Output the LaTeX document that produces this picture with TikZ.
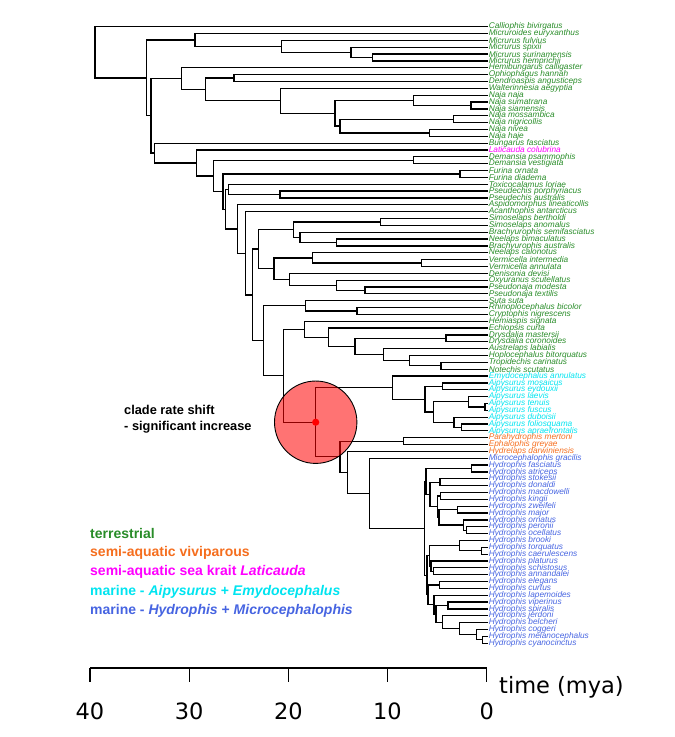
\documentclass[tikz,border=0pt]{standalone}
\usepackage{fontspec}
\setmainfont{Liberation Sans}
\newfontfamily\axisfont{DejaVu Sans}
\definecolor{terr}{RGB}{40,140,40}
\definecolor{viv}{RGB}{245,110,30}
\definecolor{krait}{RGB}{255,0,255}
\definecolor{aipc}{RGB}{0,228,240}
\definecolor{hydc}{RGB}{70,100,225}
\begin{document}
\begin{tikzpicture}[x=1pt,y=-1pt,
    br/.style={line width=1.25pt},
    lab/.style={anchor=west,inner xsep=0.6pt,inner ysep=0pt,font=\fontsize{8.3}{8.3}\selectfont\itshape},
    key/.style={anchor=west,inner sep=0pt,font=\fontsize{14}{14}\selectfont\bfseries},
    ax/.style={line width=1.2pt},
    axlab/.style={inner sep=0pt,font=\fontsize{22.5}{22.5}\selectfont\axisfont}]
\useasboundingbox (0,0) rectangle (675,737);
\begin{scope}[y=-6.85pt,yshift=-19.85pt]
% tips
\foreach \n [count=\i] in {Calliophis bivirgatus,Micruroides euryxanthus,Micrurus fulvius,Micrurus spixii,Micrurus surinamensis,Micrurus hemprichii,Hemibungarus calligaster,Ophiophagus hannah,Dendroaspis angusticeps,Walterinnesia aegyptia,Naja naja,Naja sumatrana,Naja siamensis,Naja mossambica,Naja nigricollis,Naja nivea,Naja haje,Bungarus fasciatus}
  {\coordinate (t\i) at (488,\i); \node[lab,text=terr] (l\i) at (t\i) {\n};}
\coordinate (t19) at (488,19); \node[lab,text=krait] (l19) at (t19) {Laticauda colubrina};
\foreach \n [count=\i from 20] in {Demansia psammophis,Demansia vestigiata,Furina ornata,Furina diadema,Toxicocalamus loriae,Pseudechis porphyriacus,Pseudechis australis,Aspidomorphus lineaticollis,Acanthophis antarcticus,Simoselaps bertholdi,Simoselaps anomalus,Brachyurophis semifasciatus,Neelaps bimaculatus,Brachyurophis australis,Neelaps calonotus,Vermicella intermedia,Vermicella annulata,Denisonia devisi,Oxyuranus scutellatus,Pseudonaja modesta,Pseudonaja textilis,Suta suta,Rhinoplocephalus bicolor,Cryptophis nigrescens,Hemiaspis signata,Echiopsis curta,Drysdalia mastersii,Drysdalia coronoides,Austrelaps labialis,Hoplocephalus bitorquatus,Tropidechis carinatus,Notechis scutatus}
  {\coordinate (t\i) at (488,\i); \node[lab,text=terr] (l\i) at (t\i) {\n};}
\foreach \n [count=\i from 52] in {Emydocephalus annulatus,Aipysurus mosaicus,Aipysurus eydouxii,Aipysurus laevis,Aipysurus tenuis,Aipysurus fuscus,Aipysurus duboisii,Aipysurus foliosquama,Aipysurus apraefrontalis}
  {\coordinate (t\i) at (488,\i); \node[lab,text=aipc] (l\i) at (t\i) {\n};}
\foreach \n [count=\i from 61] in {Parahydrophis mertoni,Ephalophis greyae,Hydrelaps darwiniensis}
  {\coordinate (t\i) at (488,\i); \node[lab,text=viv] (l\i) at (t\i) {\n};}
\foreach \n [count=\i from 64] in {Microcephalophis gracilis,Hydrophis fasciatus,Hydrophis atriceps,Hydrophis stokesii,Hydrophis donaldi,Hydrophis macdowelli,Hydrophis kingii,Hydrophis zweifeli,Hydrophis major,Hydrophis ornatus,Hydrophis peronii,Hydrophis ocellatus,Hydrophis brooki,Hydrophis torquatus,Hydrophis caerulescens,Hydrophis platurus,Hydrophis schistosus,Hydrophis annandalei,Hydrophis elegans,Hydrophis curtus,Hydrophis lapemoides,Hydrophis viperinus,Hydrophis spiralis,Hydrophis jerdoni,Hydrophis belcheri,Hydrophis coggeri,Hydrophis melanocephalus,Hydrophis cyanocinctus}
  {\coordinate (t\i) at (488,\i); \node[lab,text=hydc] (l\i) at (t\i) {\n};}
% internal nodes (x = age, y = mean of daughters)
\coordinate (root) at (95,4.74);
\coordinate (nA) at (146.7,8.48);
\coordinate (nB) at (195,2.94);
\coordinate (nC) at (281.7,3.88);
\coordinate (nD) at (351,4.75);
\coordinate (nE) at (372.3,5.5);
\coordinate (nF) at (151,14.01);
\coordinate (nG) at (181.7,8.58);
\coordinate (nH) at (205.7,10.16);
\coordinate (nI) at (234,8.5);
\coordinate (nJ) at (280.7,11.81);
\coordinate (naja) at (335,13.63);
\coordinate (nK) at (413.3,11.75);
\coordinate (nK2) at (471,12.5);
\coordinate (nL) at (340,15.5);
\coordinate (nM) at (453.3,14.5);
\coordinate (nN) at (429.3,16.5);
\coordinate (nBu) at (154.3,19.45);
\coordinate (nR) at (196.7,20.89);
\coordinate (nP) at (213.5,22.79);
\coordinate (dem) at (413.3,20.5);
\coordinate (nQa) at (223,25.07);
\coordinate (fur) at (460,22.5);
\coordinate (nQb) at (225.5,27.65);
\coordinate (nS) at (228.5,24.75);
\coordinate (pse) at (280,25.5);
\coordinate (nT) at (237.7,30.54);
\coordinate (nU) at (245.7,34.08);
\coordinate (nV) at (252.3,40.16);
\coordinate (nW) at (258.3,33.47);
\coordinate (nX) at (293.3,30.63);
\coordinate (sim) at (380.7,29.5);
\coordinate (nX2) at (300,31.75);
\coordinate (nX3) at (336.7,32.5);
\coordinate (nY) at (274,36.31);
\coordinate (nY1) at (312.3,34.75);
\coordinate (ver) at (421.7,35.5);
\coordinate (nY2) at (289.3,37.88);
\coordinate (nY3) at (336.7,38.75);
\coordinate (psn) at (365,39.5);
\coordinate (nZ) at (263.3,46.85);
\coordinate (nZ1) at (305.7,41.75);
\coordinate (nZ2) at (357,42.5);
\coordinate (nAA) at (283.3,51.95);
\coordinate (nN1) at (304.3,45.17);
\coordinate (nN2) at (328.3,46.34);
\coordinate (nN3) at (355,47.69);
\coordinate (dry) at (446,46.5);
\coordinate (nN4) at (383.3,48.88);
\coordinate (nN5) at (409.3,49.75);
\coordinate (nN6) at (441,50.5);
\coordinate (marine) at (315.7,58.74);
\coordinate (aip) at (392.7,53.69);
\coordinate (ap1) at (425,55.38);
\coordinate (ap2) at (442.7,53.5);
\coordinate (ap3) at (433.3,57.25);
\coordinate (ap4) at (468.3,55.75);
\coordinate (ap6) at (485,56.5);
\coordinate (ap5) at (454,58.75);
\coordinate (ap7) at (461.7,59.5);
\coordinate (sv1) at (340,63.78);
\coordinate (sv2) at (403.3,61.5);
\coordinate (sv3) at (347.7,66.06);
\coordinate (sv4) at (369.3,69.12);
\coordinate (hyd) at (424.3,74.24);
\coordinate (hg1) at (426,67.39);
\coordinate (hp1) at (471.7,65.5);
\coordinate (ha1) at (430,69.28);
\coordinate (ha2) at (440,67.5);
\coordinate (ha3) at (437.3,71.06);
\coordinate (ha4) at (440.5,69.5);
\coordinate (ha5) at (439,72.63);
\coordinate (ha6) at (457.7,71.5);
\coordinate (ha7) at (463.3,73.75);
\coordinate (ha8) at (466.7,74.5);
\coordinate (hg2) at (427,81.09);
\coordinate (hb1) at (429.3,78.25);
\coordinate (hb2) at (459.3,76.75);
\coordinate (hb4) at (481.7,77.5);
\coordinate (hb3) at (431,79.75);
\coordinate (hb5) at (433.5,80.5);
\coordinate (hc1) at (428,83.93);
\coordinate (hc2) at (439.3,82.5);
\coordinate (hc3) at (434,85.36);
\coordinate (hc4) at (436,86.72);
\coordinate (hc5) at (448,85.5);
\coordinate (hc6) at (442.7,87.94);
\coordinate (hc7) at (459.3,88.88);
\coordinate (hc8) at (476.7,89.75);
\coordinate (hc9) at (482.7,90.5);
% branches: parent/upper/lower
\foreach \p/\a/\b in {root/t1/nA,nA/nB/nF,nB/t2/nC,nC/t3/nD,nD/t4/nE,nE/t5/t6,
    nF/nG/nBu,nG/t7/nH,nH/nI/nJ,nI/t8/t9,nJ/t10/naja,naja/nK/nL,nK/t11/nK2,nK2/t12/t13,
    nL/nM/nN,nM/t14/t15,nN/t16/t17,nBu/t18/nR,nR/t19/nP,nP/dem/nQa,dem/t20/t21,
    nQa/fur/nQb,fur/t22/t23,nQb/nS/nT,nS/t24/pse,pse/t25/t26,nT/t27/nU,nU/t28/nV,
    nV/nW/nZ,nW/nX/nY,nX/sim/nX2,sim/t29/t30,nX2/t31/nX3,nX3/t32/t33,nY/nY1/nY2,
    nY1/t34/ver,ver/t35/t36,nY2/t37/nY3,nY3/t38/psn,psn/t39/t40,nZ/nZ1/nAA,
    nZ1/t41/nZ2,nZ2/t42/t43,nAA/nN1/marine,nN1/t44/nN2,nN2/t45/nN3,nN3/dry/nN4,
    dry/t46/t47,nN4/t48/nN5,nN5/t49/nN6,nN6/t50/t51,
    marine/aip/sv1,aip/t52/ap1,ap1/ap2/ap3,ap2/t53/t54,ap3/ap4/ap5,ap4/t55/ap6,
    ap6/t56/t57,ap5/t58/ap7,ap7/t59/t60,sv1/sv2/sv3,sv2/t61/t62,sv3/t63/sv4,sv4/t64/hyd,
    hyd/hg1/hg2,hg1/hp1/ha1,hp1/t65/t66,ha1/ha2/ha3,ha2/t67/t68,ha3/ha4/ha5,ha4/t69/t70,
    ha5/ha6/ha7,ha6/t71/t72,ha7/t73/ha8,ha8/t74/t75,hg2/hb1/hc1,hb1/hb2/hb3,hb2/t76/hb4,
    hb4/t77/t78,hb3/t79/hb5,hb5/t80/t81,hc1/hc2/hc3,hc2/t82/t83,hc3/t84/hc4,hc4/hc5/hc6,
    hc5/t85/t86,hc6/t87/hc7,hc7/t88/hc8,hc8/t89/hc9,hc9/t90/t91}
  \draw[br] (\a) -| (\p) |- (\b);
\end{scope}
% rate shift
\fill[red,fill opacity=.55] (marine) circle (41.2);
\draw[line width=.9pt] (marine) circle (41.2);
\fill[red] (marine) circle (3.6);
\node[anchor=west,align=left,inner sep=0pt,font=\fontsize{12.8}{16.5}\selectfont\bfseries] (shift) at (124,419) {clade rate shift\\- significant increase};
% legend
\node[key,text=terr] (k1) at (90,533.5) {terrestrial};
\node[key,text=viv] (k2) at (90,552.5) {semi-aquatic viviparous};
\node[key,text=krait] (k3) at (90,572) {semi-aquatic sea krait \textit{Laticauda}};
\node[key,text=aipc] (k4) at (90,591.5) {marine - \textit{Aipysurus} + \textit{Emydocephalus}};
\node[key,text=hydc] (k5) at (90,610.5) {marine - \textit{Hydrophis} + \textit{Microcephalophis}};
% time axis
\draw[ax] (90,668) -- (486.7,668);
\foreach \v/\x in {40/90,30/189.2,20/288.4,10/387.5,0/486.7}{
  \draw[ax] (\x,668) -- (\x,682);
  \node[axlab,anchor=base] (tk\v) at (\x,719.5) {\v};}
\node[axlab,anchor=base west] (tlab) at (499,693.3) {time (mya)};
\end{tikzpicture}
\end{document}
